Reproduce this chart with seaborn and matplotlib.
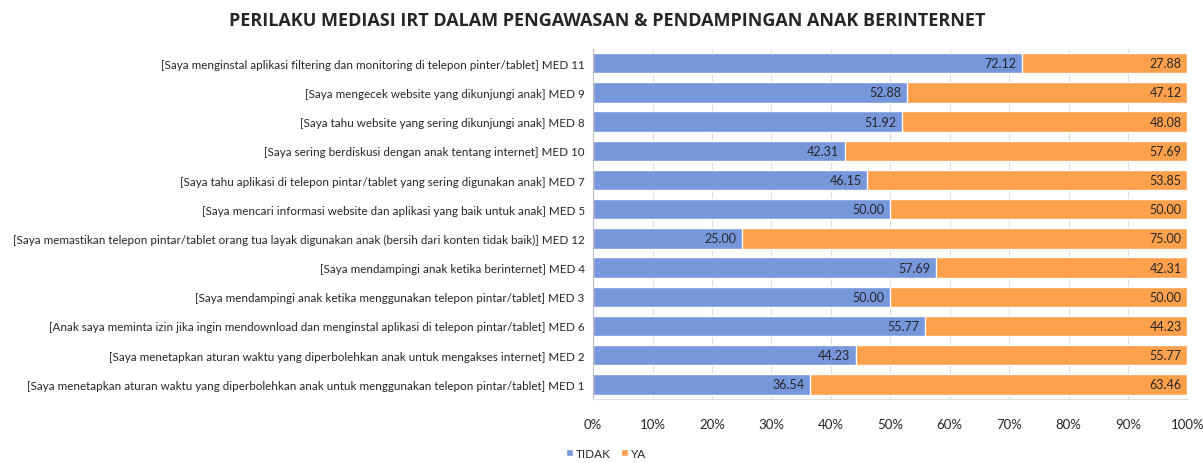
import pandas as pd
import seaborn as sns
import matplotlib.pyplot as plt
from matplotlib.ticker import PercentFormatter

# Data (urutan dari atas ke bawah)
items = [
    '[Saya menginstal aplikasi filtering dan monitoring di telepon pinter/tablet] MED 11',
    '[Saya mengecek website yang dikunjungi anak] MED 9',
    '[Saya tahu website yang sering dikunjungi anak] MED 8',
    '[Saya sering berdiskusi dengan anak tentang internet] MED 10',
    '[Saya tahu aplikasi di telepon pintar/tablet yang sering digunakan anak] MED 7',
    '[Saya mencari informasi website dan aplikasi yang baik untuk anak] MED 5',
    '[Saya memastikan telepon pintar/tablet orang tua layak digunakan anak (bersih dari konten tidak baik)] MED 12',
    '[Saya mendampingi anak ketika berinternet] MED 4',
    '[Saya mendampingi anak ketika menggunakan telepon pintar/tablet] MED 3',
    '[Anak saya meminta izin jika ingin mendownload dan menginstal aplikasi di telepon pintar/tablet] MED 6',
    '[Saya menetapkan aturan waktu yang diperbolehkan anak untuk mengakses internet] MED 2',
    '[Saya menetapkan aturan waktu yang diperbolehkan anak untuk menggunakan telepon pintar/tablet] MED 1',
]
tidak = [72.12, 52.88, 51.92, 42.31, 46.15, 50.00, 25.00, 57.69, 50.00, 55.77, 44.23, 36.54]
ya = [27.88, 47.12, 48.08, 57.69, 53.85, 50.00, 75.00, 42.31, 50.00, 44.23, 55.77, 63.46]

df = pd.DataFrame({'item': items, 'TIDAK': tidak, 'YA': ya})
df['total'] = df['TIDAK'] + df['YA']

biru = '#7697DB'
oranye = '#FFA04C'

sns.set_style('white')
plt.rcParams['font.family'] = ['Lato', 'DejaVu Sans']

fig = plt.figure(figsize=(12.03, 4.64), dpi=100)
ax = fig.add_axes([0.493, 0.138, 0.494, 0.755])

# batang YA (total) di belakang, TIDAK di depan -> stacked 100%
sns.barplot(data=df, x='total', y='item', color=oranye, width=0.7, ax=ax, label='YA', saturation=1)
sns.barplot(data=df, x='TIDAK', y='item', color=biru, width=0.7, ax=ax, label='TIDAK', saturation=1)

for cont, vals in zip(ax.containers, [ya, tidak]):
    labs = ax.bar_label(cont, labels=[f'{v:.2f}' for v in vals], padding=-4, fontsize=9)
    for t in labs:
        t.set_ha('right')

ax.set_xlim(0, 100)
ax.set_xticks(range(0, 101, 10))
ax.xaxis.set_major_formatter(PercentFormatter(decimals=0))
ax.grid(axis='x', color='#dddddd', linewidth=0.8)
ax.set_axisbelow(True)
ax.set_xlabel('')
ax.set_ylabel('')
ax.tick_params(axis='y', labelsize=8.4, length=0, pad=6)
ax.tick_params(axis='x', labelsize=9.5, length=0, pad=14)
for s in ['top', 'right']:
    ax.spines[s].set_visible(False)
ax.spines['left'].set_color('#bbbbbb')
ax.spines['bottom'].set_color('#dddddd')

h, l = ax.get_legend_handles_labels()
ax.legend(h[::-1], l[::-1], loc='upper left', bbox_to_anchor=(-0.06, -0.115), ncol=2,
          frameon=False, fontsize=8.5, handlelength=0.6, handleheight=0.6,
          handletextpad=0.3, columnspacing=0.8, borderpad=0.2)

fig.suptitle('PERILAKU MEDIASI IRT DALAM PENGAWASAN & PENDAMPINGAN ANAK BERINTERNET',
             fontsize=13, fontweight='bold', x=0.505, y=0.975, family=['Open Sans', 'DejaVu Sans'])

plt.savefig('out.png', dpi=100)
